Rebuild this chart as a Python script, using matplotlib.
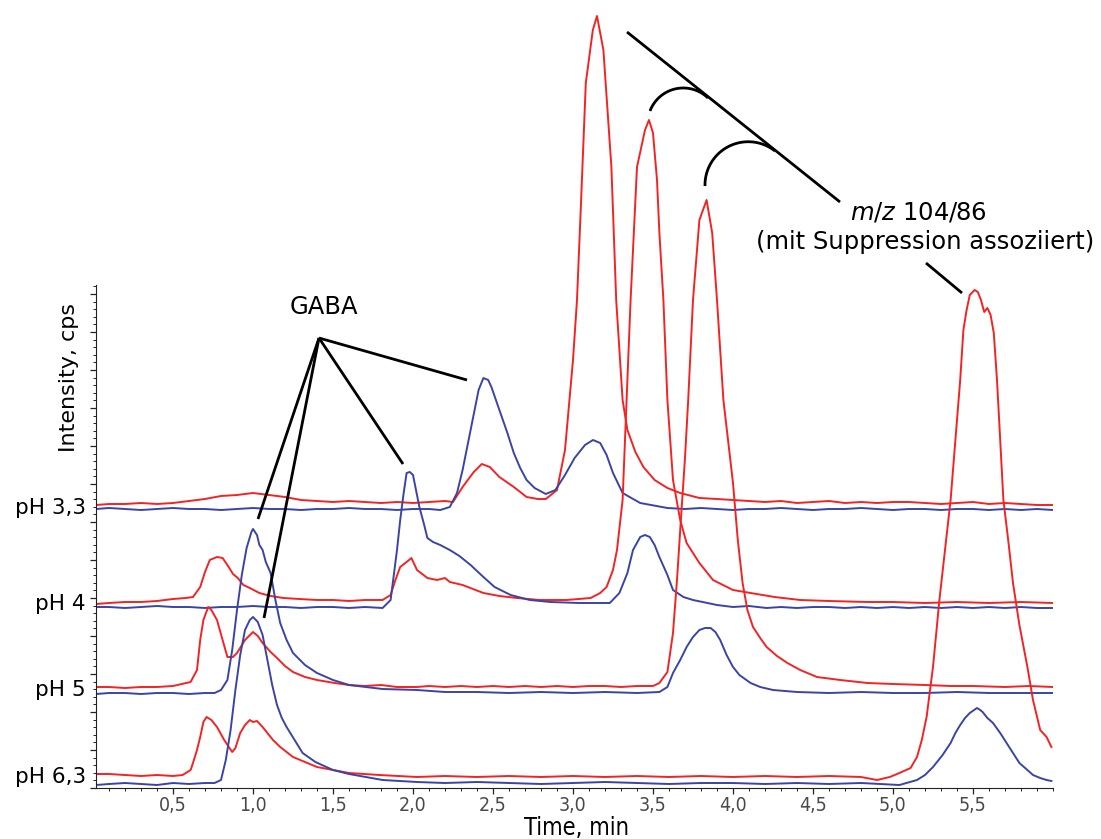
import numpy as np
import matplotlib
matplotlib.use("Agg")
import matplotlib.pyplot as plt
from matplotlib.lines import Line2D
from matplotlib.ticker import MultipleLocator, FixedLocator, FuncFormatter

# --- Data: chromatogram traces (time in min, intensity above own baseline) ---
red_ph33 = [(0.02, -2), (0.1, -1), (0.2, -1), (0.3, 0), (0.4, -1), (0.5, 0), (0.6, 2), (0.7, 4), (0.8, 7),
            (0.9, 8), (1.0, 10), (1.1, 8), (1.2, 6), (1.3, 3), (1.4, 2), (1.5, 1), (1.6, 2), (1.7, 1), (1.8, 0),
            (1.9, 1), (2.0, 0), (2.1, 1), (2.2, 2), (2.25, 1), (2.31, 16), (2.38, 31), (2.43, 39), (2.48, 36),
            (2.54, 26), (2.63, 16), (2.71, 6), (2.78, 4), (2.83, 4), (2.9, 13), (2.95, 53), (3.0, 143),
            (3.025, 203), (3.05, 300), (3.08, 420), (3.124, 473), (3.15, 487), (3.19, 453), (3.24, 336),
            (3.27, 203), (3.31, 103), (3.34, 73), (3.39, 51), (3.44, 36), (3.51, 23), (3.59, 15), (3.67, 10),
            (3.79, 5), (3.9, 4), (4.0, 3), (4.1, 2), (4.2, 1), (4.3, 2), (4.4, 0), (4.5, 1), (4.6, 2), (4.7, 0),
            (4.8, 1), (4.9, 0), (5.0, 1), (5.1, 1), (5.2, 0), (5.3, -1), (5.4, 0), (5.5, 1), (5.6, -1), (5.7, 0),
            (5.8, -1), (5.9, -2), (6.0, -2)]
blue_ph33 = [(0.02, 0), (0.1, 1), (0.2, 0), (0.3, -1), (0.4, 0), (0.5, 1), (0.6, 0), (0.7, 0), (0.8, -1),
             (0.9, 0), (1.0, 1), (1.1, 0), (1.2, 0), (1.3, -1), (1.4, 0), (1.5, 0), (1.6, 1), (1.7, 0), (1.8, 0),
             (1.9, -1), (2.0, 0), (2.1, 0), (2.17, -1), (2.23, 2), (2.275, 16), (2.31, 39), (2.36, 79),
             (2.41, 119), (2.44, 131), (2.47, 129), (2.49, 122), (2.54, 99), (2.59, 76), (2.63, 56), (2.67, 41),
             (2.71, 29), (2.76, 21), (2.83, 15), (2.89, 19), (2.95, 34), (3.01, 51), (3.075, 64), (3.125, 69),
             (3.17, 66), (3.21, 54), (3.25, 36), (3.31, 16), (3.42, 6), (3.59, 1), (3.7, 0), (3.8, 1), (3.9, 0),
             (4.0, -1), (4.1, 0), (4.2, 0), (4.3, 1), (4.4, 0), (4.5, -1), (4.6, 0), (4.7, 0), (4.8, 1), (4.9, 0),
             (5.0, -1), (5.1, 0), (5.2, 0), (5.3, -1), (5.4, 0), (5.5, 0), (5.6, -1), (5.7, 0), (5.8, -1),
             (5.9, 0), (6.0, -1)]
red_ph4 = [(0.02, -1), (0.1, 0), (0.2, 1), (0.3, 1), (0.4, 2), (0.5, 4), (0.58, 5), (0.625, 6), (0.67, 16),
           (0.70, 31), (0.73, 43), (0.775, 46), (0.81, 45), (0.84, 38), (0.875, 29), (0.905, 25), (0.94, 18),
           (0.98, 15), (1.04, 10), (1.11, 7), (1.19, 5), (1.29, 4), (1.4, 3), (1.5, 3), (1.6, 2), (1.7, 3),
           (1.81, 3), (1.86, 8), (1.89, 23), (1.92, 36), (1.96, 41), (1.99, 45), (2.025, 33), (2.09, 25),
           (2.15, 23), (2.2, 25), (2.23, 21), (2.31, 18), (2.44, 10), (2.54, 7), (2.65, 5), (2.79, 3), (2.96, 3),
           (3.11, 5), (3.17, 10), (3.21, 16), (3.25, 33), (3.275, 53), (3.31, 103), (3.335, 203), (3.36, 303),
           (3.40, 436), (3.45, 473), (3.475, 483), (3.5, 470), (3.525, 423), (3.54, 370), (3.565, 303),
           (3.59, 203), (3.625, 123), (3.67, 83), (3.71, 60), (3.79, 40), (3.875, 23), (4.0, 13), (4.11, 10),
           (4.26, 6), (4.42, 3), (4.6, 2), (4.84, 1), (5.0, 1), (5.2, 0), (5.4, 1), (5.6, 0), (5.8, 1), (6.0, 0)]
blue_ph4 = [(0.02, 0), (0.1, 0), (0.2, -1), (0.3, 0), (0.4, 1), (0.5, 0), (0.6, 0), (0.7, -1), (0.8, 0),
            (0.9, 0), (1.0, 1), (1.1, 0), (1.2, 0), (1.3, -1), (1.4, 0), (1.5, 0), (1.6, -1), (1.7, 0),
            (1.81, -1), (1.86, 7), (1.88, 32), (1.9, 57), (1.92, 87), (1.94, 112), (1.96, 134), (1.98, 135),
            (2.0, 132), (2.025, 112), (2.04, 100), (2.07, 82), (2.09, 69), (2.125, 65), (2.17, 62), (2.23, 57),
            (2.29, 51), (2.36, 42), (2.44, 30), (2.51, 20), (2.61, 12), (2.73, 7), (2.86, 5), (3.04, 4),
            (3.23, 4), (3.29, 14), (3.34, 34), (3.375, 57), (3.42, 70), (3.45, 72), (3.48, 70), (3.51, 62),
            (3.54, 50), (3.59, 32), (3.625, 17), (3.69, 10), (3.75, 7), (3.9, 2), (4.0, 0), (4.1, 1), (4.21, -1),
            (4.3, 0), (4.4, -1), (4.5, 0), (4.6, 0), (4.7, -1), (4.8, 0), (4.9, -1), (5.0, 0), (5.1, -1),
            (5.2, 0), (5.3, -1), (5.4, 0), (5.5, -1), (5.6, 0), (5.7, -1), (5.8, 0), (5.9, -1), (6.0, -1)]
red_ph5 = [(0.02, 1), (0.1, 1), (0.2, 0), (0.3, 1), (0.4, 1), (0.5, 2), (0.61, 6), (0.65, 18), (0.67, 48),
           (0.69, 68), (0.72, 81), (0.74, 78), (0.775, 68), (0.81, 48), (0.84, 31), (0.875, 31), (0.9, 35),
           (0.95, 48), (1.0, 56), (1.03, 52), (1.06, 45), (1.11, 36), (1.15, 30), (1.2, 22), (1.25, 16),
           (1.325, 11), (1.4, 8), (1.51, 5), (1.6, 3), (1.7, 2), (1.8, 3), (1.9, 1), (2.025, 1), (2.1, 2),
           (2.2, 1), (2.3, 2), (2.4, 1), (2.5, 2), (2.6, 1), (2.7, 2), (2.8, 1), (2.9, 2), (3.0, 1), (3.1, 2),
           (3.2, 2), (3.3, 1), (3.4, 2), (3.5, 2), (3.54, 5), (3.59, 16), (3.625, 55), (3.65, 108),
           (3.675, 170), (3.7, 230), (3.72, 288), (3.75, 388), (3.79, 468), (3.835, 488), (3.87, 455),
           (3.9, 388), (3.94, 288), (4.0, 205), (4.03, 148), (4.06, 105), (4.09, 78), (4.125, 61), (4.17, 50),
           (4.21, 41), (4.275, 32), (4.34, 25), (4.42, 18), (4.525, 11), (4.67, 8), (4.84, 5), (5.0, 4),
           (5.2, 3), (5.36, 2), (5.5, 2), (5.7, 1), (5.85, 2), (6.0, 1)]
blue_ph5 = [(0.02, -1), (0.1, 0), (0.2, 0), (0.3, -1), (0.4, 0), (0.5, 0), (0.6, -1), (0.7, 0), (0.76, 0),
            (0.8, 3), (0.84, 13), (0.87, 43), (0.9, 83), (0.93, 118), (0.96, 145), (0.99, 161), (1.0, 164),
            (1.025, 158), (1.04, 148), (1.06, 143), (1.08, 131), (1.11, 120), (1.14, 93), (1.17, 70),
            (1.21, 53), (1.25, 40), (1.325, 28), (1.4, 20), (1.5, 13), (1.6, 8), (1.81, 4), (2.025, 3),
            (2.2, 1), (2.4, 1), (2.6, 0), (2.8, 1), (3.0, 0), (3.2, 1), (3.4, 0), (3.54, 1), (3.59, 6),
            (3.625, 20), (3.67, 33), (3.71, 46), (3.75, 56), (3.79, 63), (3.825, 65), (3.86, 65), (3.89, 61),
            (3.92, 53), (3.96, 38), (4.0, 26), (4.04, 18), (4.11, 10), (4.17, 6), (4.25, 3), (4.4, 1), (4.6, 0),
            (4.8, 1), (5.0, 0), (5.2, 0), (5.4, 1), (5.6, 0), (5.8, 0), (6.0, 0)]
red_ph63 = [(0.02, 3), (0.1, 3), (0.2, 2), (0.3, 1), (0.4, 2), (0.5, 1), (0.56, 2), (0.61, 7), (0.625, 14),
            (0.65, 27), (0.67, 40), (0.69, 55), (0.71, 60), (0.74, 57), (0.775, 50), (0.82, 37), (0.87, 25),
            (0.89, 29), (0.92, 44), (0.95, 52), (0.98, 57), (1.0, 55), (1.025, 56), (1.06, 50), (1.09, 44),
            (1.125, 37), (1.17, 30), (1.21, 25), (1.25, 20), (1.325, 15), (1.4, 10), (1.5, 7), (1.6, 4),
            (1.79, 2), (2.025, 0), (2.2, 1), (2.4, 0), (2.6, 1), (2.8, 0), (3.0, 1), (3.2, 0), (3.4, 1), (3.6, 0),
            (3.8, 1), (4.0, 0), (4.2, 1), (4.4, 0), (4.6, 1), (4.8, 0), (4.9, -3), (4.98, 0), (5.04, 4),
            (5.11, 9), (5.15, 20), (5.18, 37), (5.21, 60), (5.25, 110), (5.29, 177), (5.325, 227), (5.36, 277),
            (5.39, 337), (5.42, 397), (5.44, 447), (5.46, 467), (5.48, 482), (5.51, 487), (5.53, 485),
            (5.55, 477), (5.57, 465), (5.59, 469), (5.61, 462), (5.63, 444), (5.65, 397), (5.67, 337),
            (5.69, 277), (5.72, 237), (5.75, 194), (5.79, 152), (5.84, 110), (5.875, 77), (5.92, 47),
            (5.96, 40), (5.99, 30)]
blue_ph63 = [(0.02, -2), (0.1, -1), (0.2, 0), (0.3, -1), (0.4, -2), (0.5, 0), (0.6, -1), (0.7, 0), (0.76, 0),
             (0.8, 3), (0.83, 23), (0.86, 53), (0.89, 93), (0.92, 128), (0.95, 153), (0.98, 163), (1.0, 166),
             (1.03, 161), (1.06, 148), (1.09, 123), (1.12, 98), (1.15, 78), (1.18, 65), (1.21, 56), (1.26, 43),
             (1.31, 30), (1.39, 21), (1.5, 13), (1.6, 9), (1.81, 3), (2.025, 1), (2.2, 0), (2.4, 1), (2.6, 0),
             (2.8, -1), (3.0, 0), (3.2, 1), (3.4, 0), (3.6, -1), (3.8, 0), (4.0, 0), (4.2, -1), (4.4, 0),
             (4.6, -1), (4.8, 0), (5.04, -2), (5.15, 3), (5.2, 8), (5.25, 16), (5.31, 28), (5.36, 40),
             (5.39, 50), (5.42, 58), (5.45, 65), (5.48, 70), (5.525, 75), (5.545, 73), (5.56, 71), (5.59, 65),
             (5.625, 60), (5.67, 50), (5.71, 40), (5.75, 30), (5.79, 20), (5.84, 13), (5.875, 8), (5.92, 5),
             (5.96, 3), (5.99, 2)]

ph_labels = ["pH 3,3", "pH 4", "pH 5", "pH 6,3"]
x_ticks = [0.5, 1.0, 1.5, 2.0, 2.5, 3.0, 3.5, 4.0, 4.5, 5.0, 5.5]

# --- Layout (pixel based, figure is 1101 x 839) ---
W, H = 1101, 839
RED, BLUE = "#f42323", "#3a44a6"
NARROW = ["Liberation Sans Narrow", "DejaVu Sans"]
# vertical stacking offset of each trace (same units as intensity)
traces = [
    (red_ph33, 285, RED), (blue_ph33, 279, BLUE),
    (red_ph4, 185, RED), (blue_ph4, 181, BLUE),
    (red_ph5, 100, RED), (blue_ph5, 95, BLUE),
    (red_ph63, 11, RED), (blue_ph63, 5, BLUE),
]
label_y = [508, 604, 690, 777]


def fx(px):
    return px / W


def fy(py):
    return 1 - py / H


def arc_xy(p1, pm, p2, n=50):
    """Points of the circular arc through p1, pm, p2 (pixel coords)."""
    (x1, y1), (x2, y2), (x3, y3) = p1, pm, p2
    d = 2 * (x1 * (y2 - y3) + x2 * (y3 - y1) + x3 * (y1 - y2))
    ux = ((x1**2 + y1**2) * (y2 - y3) + (x2**2 + y2**2) * (y3 - y1) + (x3**2 + y3**2) * (y1 - y2)) / d
    uy = ((x1**2 + y1**2) * (x3 - x2) + (x2**2 + y2**2) * (x1 - x3) + (x3**2 + y3**2) * (x2 - x1)) / d
    r = np.hypot(x1 - ux, y1 - uy)
    a1 = np.arctan2(y1 - uy, x1 - ux)
    am = np.arctan2(y2 - uy, x2 - ux)
    a2 = np.arctan2(y3 - uy, x3 - ux)
    s2 = (a2 - a1) % (2 * np.pi)
    sm = (am - a1) % (2 * np.pi)
    if sm <= s2:
        ang = a1 + np.linspace(0, s2, n)
    else:
        ang = a1 - np.linspace(0, 2 * np.pi - s2, n)
    return ux + r * np.cos(ang), uy + r * np.sin(ang)


fig = plt.figure(figsize=(W / 100, H / 100), dpi=100)
ax = fig.add_axes([fx(96), fy(788), fx(1053) - fx(96), 788 / H])
ax.patch.set_alpha(0)

for data, offset, color in traces:
    t = np.array([p[0] for p in data])
    y = np.array([p[1] for p in data]) + offset
    ax.plot(t, y, color=color, lw=1.4, solid_joinstyle="round")

ax.set_xlim((96 - 93) / 160, 6.0)
ax.set_ylim(0, 788)

for side in ["top", "right"]:
    ax.spines[side].set_visible(False)
ax.spines["left"].set_bounds(0, 503)
ax.spines["left"].set_color("#222222")
ax.spines["bottom"].set_color("#222222")

ax.xaxis.set_major_locator(FixedLocator(x_ticks))
ax.xaxis.set_minor_locator(MultipleLocator(0.1))
ax.xaxis.set_major_formatter(FuncFormatter(lambda v, p: f"{v:.1f}".replace(".", ",")))
ax.yaxis.set_major_locator(FixedLocator(np.arange(0, 504, 38)))
ax.yaxis.set_minor_locator(FixedLocator(np.arange(0, 503, 7.6)))
ax.yaxis.set_major_formatter(FuncFormatter(lambda v, p: ""))
ax.tick_params(axis="both", which="major", direction="out", length=4, width=0.9, color="#222222")
ax.tick_params(axis="both", which="minor", direction="out", length=2, width=0.7, color="#222222")
ax.tick_params(axis="x", which="major", pad=1.5, labelsize=14, labelcolor="#4a4a4a")
for lab in ax.get_xticklabels():
    lab.set_family(NARROW)
    lab.set_fontstretch("condensed")

# --- Axis titles and pH labels ---
fig.text(fx(577), fy(828), "Time, min", ha="center", va="center", fontsize=17,
         family=NARROW, fontstretch="condensed")
fig.text(fx(69), fy(377), "Intensity, cps", rotation=90, ha="center", va="center", fontsize=16)
for lab, py in zip(ph_labels, label_y):
    fig.text(fx(86), fy(py), lab, ha="right", va="center", fontsize=15.5)

# --- Annotations ---
line_kw = dict(color="black", lw=2, solid_capstyle="butt")
fig.text(fx(324), fy(307), "GABA", ha="center", va="center", fontsize=17.5)
apex = (319, 338)
for end in [(467, 380), (403, 464), (258, 519), (264, 618)]:
    fig.add_artist(Line2D([fx(apex[0]), fx(end[0])], [fy(apex[1]), fy(end[1])], **line_kw))

fig.add_artist(Line2D([fx(627), fx(840)], [fy(32), fy(202)], **line_kw))
fig.add_artist(Line2D([fx(926), fx(962)], [fy(263), fy(293)], **line_kw))
for p1, pm, p2 in [((650, 111), (684, 88), (708, 98)), ((705, 186), (753, 142), (775, 151))]:
    ax_, ay_ = arc_xy(p1, pm, p2)
    fig.add_artist(Line2D(fx(ax_), fy(ay_), **line_kw))

fig.text(fx(918), fy(213), r"$\it{m/z}$ 104/86", ha="center", va="center", fontsize=17.5)
fig.text(fx(925), fy(242), "(mit Suppression assoziiert)", ha="center", va="center", fontsize=17.5)

fig.savefig("out.png", dpi=100)
print("saved out.png")
